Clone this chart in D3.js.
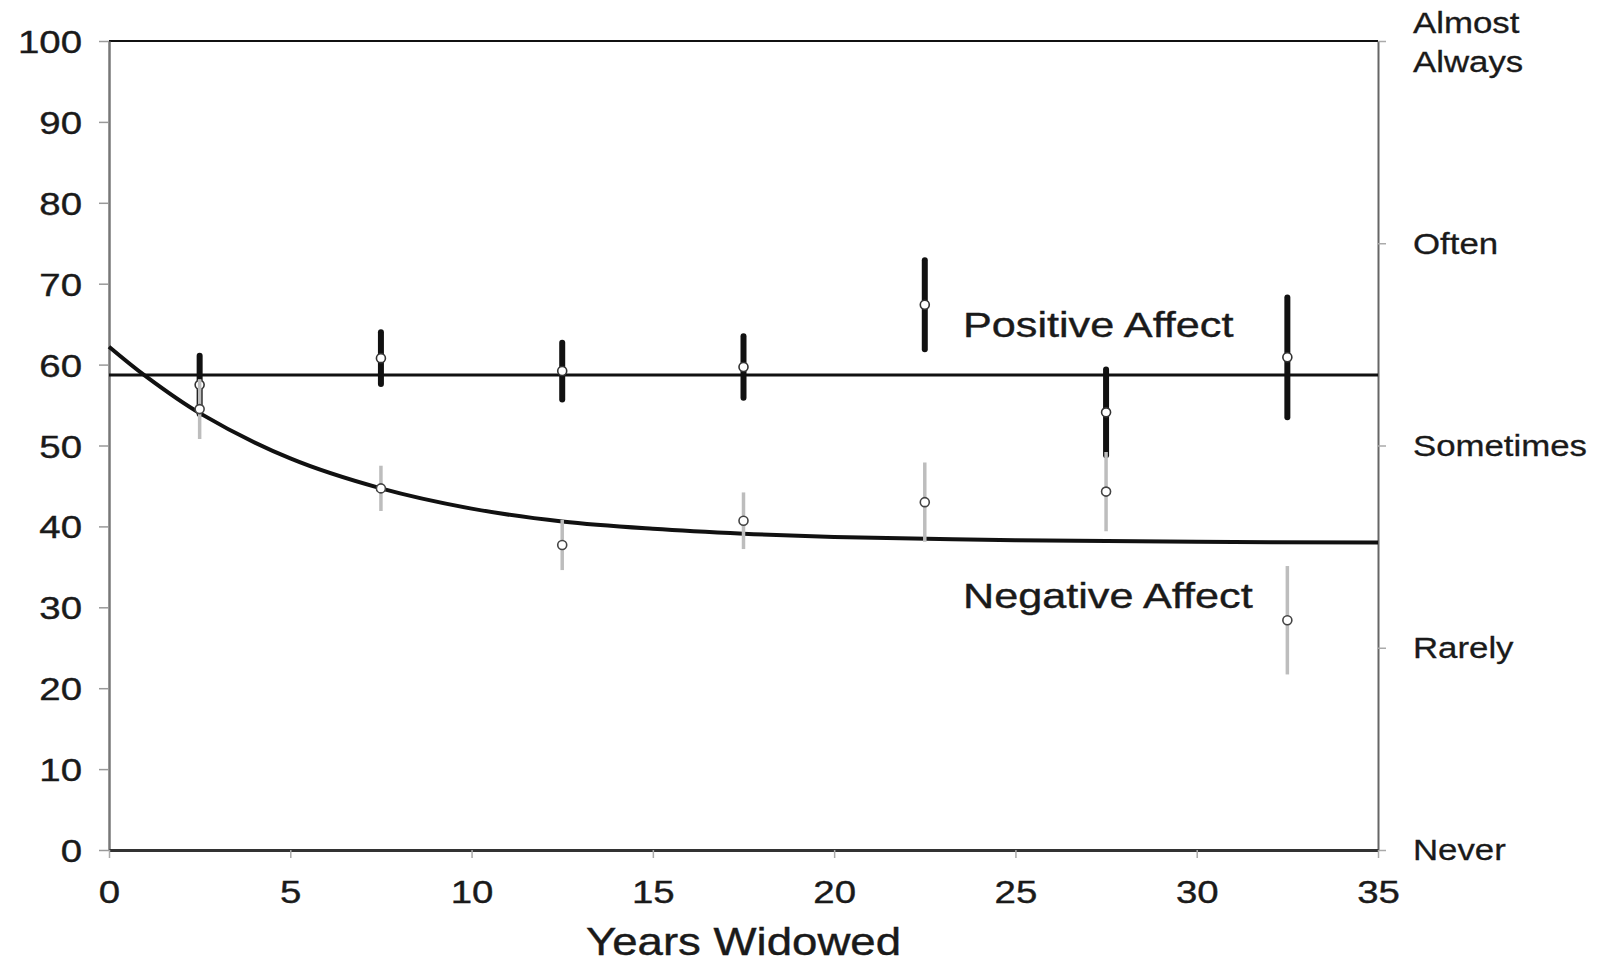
<!DOCTYPE html>
<html>
<head>
<meta charset="utf-8">
<script src="https://cdn.jsdelivr.net/npm/d3@7"></script>
<style>
  html, body { margin: 0; padding: 0; background: #fff; }
  svg { display: block; font-family: "Liberation Sans", Arial, sans-serif; }
</style>
</head>
<body>
<svg id="chart" width="1597" height="963"></svg>
<script>
// ---------- data ----------
const years = [2.5, 7.5, 12.5, 17.5, 22.5, 27.5, 32.5];
const positiveMean = [57.5, 60.8, 59.2, 59.7, 67.4, 54.1, 60.9];
const positiveErr  = [3.6, 3.2, 3.5, 3.8, 5.5, 5.3, 7.4];
const negativeMean = [54.5, 44.7, 37.7, 40.7, 43.0, 44.3, 28.4];
const negativeErr  = [3.7, 2.8, 3.1, 3.5, 4.9, 4.9, 6.7];
const positiveFitLevel = 58.7;
const fitX = [0, 1, 2.5, 5, 7.5, 10, 12.5, 15, 17.5, 20, 25, 30, 35];
const negativeFitY = [62.2, 58.6, 54.0, 48.4, 44.7, 42.2, 40.6, 39.7, 39.1, 38.7, 38.3, 38.1, 38.0];
const xTicks = [0, 5, 10, 15, 20, 25, 30, 35];
const yTicks = [0, 10, 20, 30, 40, 50, 60, 70, 80, 90, 100];
const rightTickValues = [0, 25, 50, 75, 100];
const rightTickLabels = ["Never", "Rarely", "Sometimes", "Often", "Almost Always"];
const xTitle = "Years Widowed";
const seriesLabels = ["Positive Affect", "Negative Affect"];

// ---------- layout ----------
const SX = 1.2; // horizontal text stretch of the original
const svg = d3.select("#chart");
const x = d3.scaleLinear().domain([0, 35]).range([109, 1378]);
const y = d3.scaleLinear().domain([0, 100]).range([850, 41]);

// top border
svg.append("line").attr("x1", x(0)).attr("x2", x(35)).attr("y1", y(100)).attr("y2", y(100))
  .attr("stroke", "#111").attr("stroke-width", 2);

// left axis
const gL = svg.append("g").attr("transform", `translate(${x(0)},0)`)
  .call(d3.axisLeft(y).tickValues(yTicks).tickSize(10).tickSizeOuter(0));
gL.select(".domain").attr("stroke", "#777").attr("stroke-width", 2.5);
gL.selectAll(".tick line").attr("stroke", "#999").attr("stroke-width", 1.5);
gL.selectAll(".tick text").attr("x", -27 / SX).attr("dy", "0.36em")
  .attr("transform", `scale(${SX},1)`).attr("font-size", 32).attr("fill", "#1a1a1a")
  .attr("stroke", "#1a1a1a").attr("stroke-width", 0.4);

// right axis
const gR = svg.append("g").attr("transform", `translate(${x(35)},0)`)
  .call(d3.axisRight(y).tickValues(rightTickValues).tickSize(8).tickSizeOuter(0).tickFormat(""));
gR.select(".domain").attr("stroke", "#666").attr("stroke-width", 2);
gR.selectAll(".tick line").attr("stroke", "#aaa").attr("stroke-width", 1.5);

rightTickValues.forEach((v, i) => {
  const words = rightTickLabels[i] === "Almost Always" ? ["Almost", "Always"] : [rightTickLabels[i]];
  const t = svg.append("text")
    .attr("transform", `translate(1413,${y(v)}) scale(${SX},1)`)
    .attr("font-size", 29).attr("fill", "#1a1a1a")
    .attr("stroke", "#1a1a1a").attr("stroke-width", 0.3);
  if (words.length === 2) {
    t.append("tspan").attr("x", 0).attr("y", -18).attr("dy", "0.36em").text(words[0]);
    t.append("tspan").attr("x", 0).attr("y", 21).attr("dy", "0.36em").text(words[1]);
  } else {
    t.attr("dy", "0.36em").text(words[0]);
  }
});

// bottom axis
const gB = svg.append("g").attr("transform", `translate(0,${y(0)})`)
  .call(d3.axisBottom(x).tickValues(xTicks).tickSize(8).tickSizeOuter(0));
gB.select(".domain").attr("stroke", "#333").attr("stroke-width", 3);
gB.selectAll(".tick line").attr("stroke", "#aaa").attr("stroke-width", 1.5);
gB.selectAll(".tick text").attr("y", 53).attr("dy", 0)
  .attr("transform", `scale(${SX},1)`).attr("font-size", 32).attr("fill", "#1a1a1a")
  .attr("stroke", "#1a1a1a").attr("stroke-width", 0.4);

// x title
svg.append("text")
  .attr("transform", `translate(${(x(0) + x(35)) / 2},955) scale(${SX},1)`)
  .attr("text-anchor", "middle").attr("font-size", 38).attr("fill", "#1a1a1a")
  .attr("stroke", "#1a1a1a").attr("stroke-width", 0.4).text(xTitle);

// positive fit line
svg.append("line").attr("x1", x(0)).attr("x2", x(35))
  .attr("y1", y(positiveFitLevel)).attr("y2", y(positiveFitLevel))
  .attr("stroke", "#111").attr("stroke-width", 3);

// negative fit curve
const fitData = fitX.map((d, i) => [d, negativeFitY[i]]);
svg.append("path").datum(fitData)
  .attr("d", d3.line().x(d => x(d[0])).y(d => y(d[1])).curve(d3.curveCatmullRom.alpha(0.5)))
  .attr("fill", "none").attr("stroke", "#111").attr("stroke-width", 4);

// error bars
const pos = years.map((d, i) => ({ x: d, m: positiveMean[i], e: positiveErr[i] }));
const neg = years.map((d, i) => ({ x: d, m: negativeMean[i], e: negativeErr[i] }));

svg.append("g").selectAll("line").data(pos).join("line")
  .attr("x1", d => x(d.x)).attr("x2", d => x(d.x))
  .attr("y1", d => y(d.m + d.e)).attr("y2", d => y(d.m - d.e))
  .attr("stroke", "#111").attr("stroke-width", 6).attr("stroke-linecap", "round");
svg.append("g").selectAll("circle").data(pos).join("circle")
  .attr("cx", d => x(d.x)).attr("cy", d => y(d.m)).attr("r", 4.5)
  .attr("fill", "#fff").attr("stroke", "#333").attr("stroke-width", 1.6);

svg.append("g").selectAll("line").data(neg).join("line")
  .attr("x1", d => x(d.x)).attr("x2", d => x(d.x))
  .attr("y1", d => y(d.m + d.e)).attr("y2", d => y(d.m - d.e))
  .attr("stroke", "#bdbdbd").attr("stroke-width", 3.5);
svg.append("g").selectAll("circle").data(neg).join("circle")
  .attr("cx", d => x(d.x)).attr("cy", d => y(d.m)).attr("r", 4.5)
  .attr("fill", "#fff").attr("stroke", "#444").attr("stroke-width", 1.6);

// series labels
svg.append("text").attr("transform", `translate(963,337) scale(${SX},1)`)
  .attr("font-size", 36).attr("fill", "#1a1a1a")
  .attr("stroke", "#1a1a1a").attr("stroke-width", 0.4).text(seriesLabels[0]);
svg.append("text").attr("transform", `translate(963,608) scale(${SX},1)`)
  .attr("font-size", 36).attr("fill", "#1a1a1a")
  .attr("stroke", "#1a1a1a").attr("stroke-width", 0.4).text(seriesLabels[1]);
</script>
</body>
</html>
